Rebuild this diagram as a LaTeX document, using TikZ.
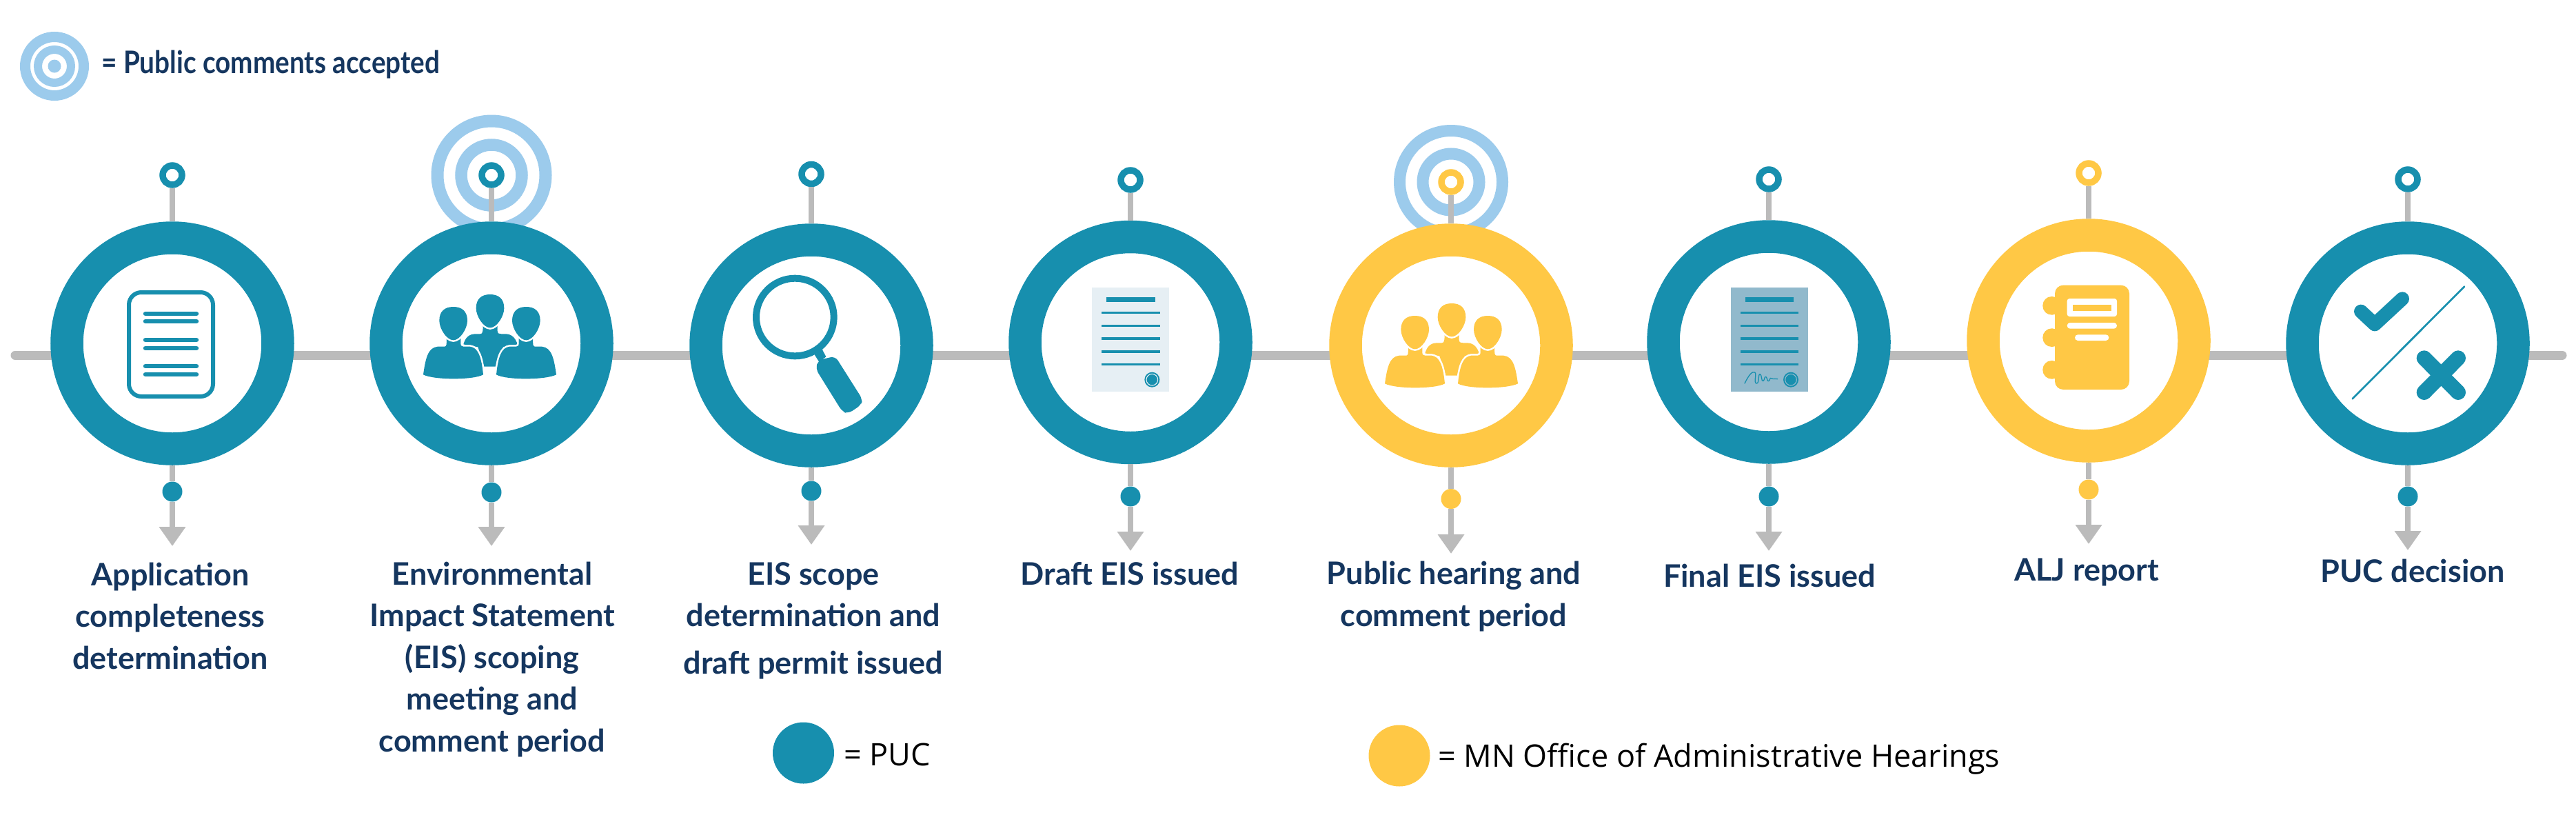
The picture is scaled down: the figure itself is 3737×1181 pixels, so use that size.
\documentclass[tikz,border=0pt]{standalone}
\usepackage{fontspec}
\usetikzlibrary{arrows.meta}
\newfontfamily\lblfont{Lato}
\newfontfamily\lblfontB{Lato}[FakeStretch=0.86]
\newfontfamily\legfont{Open Sans}
\definecolor{teal}{HTML}{178FAE}
\definecolor{sun}{HTML}{FFC845}
\definecolor{rail}{HTML}{BBBBBB}
\definecolor{sky}{HTML}{9CCBEC}
\definecolor{navy}{HTML}{15365F}
\definecolor{paleA}{HTML}{E6EFF4}
\definecolor{paleB}{HTML}{91B9CC}
\tikzset{
  bigring/.style={circle,inner sep=0pt,minimum size=306pt,line width=47.5pt,fill=white,draw=#1},
  topring/.style={circle,inner sep=0pt,minimum size=28pt,line width=9.5pt,fill=white,draw=#1},
  botdot/.style={circle,inner sep=0pt,minimum size=29pt,fill=#1},
  target/.style={circle,inner sep=0pt,draw=sky,fill=white},
  stemline/.style={draw=rail,line width=8pt},
  arrowline/.style={draw=rail,line width=8pt,-{Triangle[width=37pt,length=28pt]}},
  timeline/.style={draw=rail,line width=13pt,line cap=round},
  steplabel/.style={inner sep=0pt,anchor=base,align=center,text=navy,font=\lblfont\bfseries\fontsize{45}{60.5}\selectfont},
  legendlabel/.style={inner sep=0pt,anchor=base west,text=black,font=\legfont\fontsize{45}{54}\selectfont},
  zoomed/.style={x=.33333pt,y=-.33333pt}
}
\newcommand\stage[7]{%
  \node[bigring=#7] (c#1) at (#2,#3) {};
  \node[topring=#7] (t#1) at (#2,#4) {};
  \node[botdot=#7] (d#1) at (#2,#5) {};
  \coordinate (a#1) at (#2,#6);
  \draw[stemline] (c#1) -- (t#1);
  \draw[stemline] (c#1) -- (d#1);
  \draw[arrowline] (d#1) -- (a#1);
}
\newcommand\headshape[3]{%
  \fill[#3,preaction={draw=white,line width=5pt},shift={(#1,#2)}]
    (172,255) .. controls (172,215) and (195,195) .. (233,195)
    .. controls (271,195) and (294,215) .. (294,255)
    .. controls (294,290) and (262,340) .. (233,340)
    .. controls (204,340) and (172,290) .. (172,255) -- cycle;
}
\newcommand\peopleicon[3]{%
  \begin{scope}[shift={(#1,#2)},zoomed]
    \fill[#3] (277,358) .. controls (285,330) and (300,313) .. (330,313) -- (350,313)
      .. controls (360,313) and (362,305) .. (362,270) -- (425,270) -- (425,300)
      .. controls (425,310) and (430,313) .. (445,313) -- (460,313)
      .. controls (490,313) and (505,335) .. (512,358) -- (450,370) -- (416,455) -- (367,455) -- (340,370) -- cycle;
    \headshape{160}{-54}{#3}
    \fill[#3,preaction={draw=white,line width=5pt}] (102,490) .. controls (112,420) and (122,372) .. (165,368) -- (195,368)
      .. controls (203,368) and (204,360) .. (204,330) -- (265,330) -- (265,355)
      .. controls (265,366) and (270,368) .. (285,368) -- (305,368)
      .. controls (340,372) and (355,410) .. (363,490)
      .. controls (320,514) and (150,514) .. (102,490) -- cycle;
    \fill[#3,preaction={draw=white,line width=5pt}] (681,490) .. controls (671,420) and (661,372) .. (618,368) -- (588,368)
      .. controls (580,368) and (579,360) .. (579,330) -- (518,330) -- (518,355)
      .. controls (518,366) and (513,368) .. (498,368) -- (478,368)
      .. controls (443,372) and (428,410) .. (420,490)
      .. controls (463,514) and (633,514) .. (681,490) -- cycle;
    \headshape{0}{0}{#3}
    \headshape{317}{0}{#3}
  \end{scope}
}
\newcommand\certicon[3]{%
  \begin{scope}[shift={(#1,#2)},zoomed]
    \fill[#3] (192,111) rectangle (529,565);
    \fill[teal] (256,154) rectangle (467,173);
    \foreach \yy in {221,277,333,390,446} \fill[teal] (234,\yy-5) rectangle (488,\yy+5);
    \fill[teal] (454,512) circle (33);
    \draw[#3,line width=1.1pt] (454,512) circle (25);
  \end{scope}
}
\begin{document}
\begin{tikzpicture}[x=1pt,y=-1pt]
\useasboundingbox (0,0) rectangle (3737,1181);
\fill[white] (0,0) rectangle (3737,1181);

% legend, top
\node[target,line width=15pt,minimum size=85pt] (lt1) at (79,96) {};
\node[target,line width=12pt,minimum size=48pt] (lt2) at (79,96) {};
\node[circle,inner sep=0pt,minimum size=19pt,fill=sky] (lt3) at (79,96) {};
\node[inner sep=0pt,anchor=base west,text=navy,font=\lblfontB\bfseries\fontsize{45}{54}\selectfont] (lt) at (147,106) {= Public comments accepted};

% timeline
\coordinate (rs) at (22,515);
\coordinate (re) at (3717,515);
\draw[timeline] (rs) -- (re);

% public comment targets
\node[target,line width=18pt,minimum size=157pt] (tgo2) at (713,254) {};
\node[target,line width=17.5pt,minimum size=88pt] (tgi2) at (713,254) {};
\node[target,line width=17pt,minimum size=149pt] (tgo5) at (2105,264) {};
\node[target,line width=17pt,minimum size=82pt] (tgi5) at (2105,264) {};

% stages
\stage{1}{250}{498}{254}{713}{792}{teal}
\stage{2}{713}{498}{254}{714}{792}{teal}
\stage{3}{1177}{501}{252.5}{712}{790}{teal}
\stage{4}{1640}{496.5}{261}{720}{799}{teal}
\stage{5}{2105}{501}{264}{723.5}{803}{sun}
\stage{6}{2566}{496}{260}{720}{799}{teal}
\stage{7}{3030}{494}{251}{710}{789}{sun}
\stage{8}{3493}{498}{260}{720}{798}{teal}

% icon 1: document
\draw[teal,line width=6pt,rounded corners=18pt] (187,424) rectangle (309,575);
\foreach \yy in {455,466,493,505,531,543} \draw[teal,line width=6.5pt,line cap=round] (211,\yy) -- (285,\yy);

% icon 2, 5: people
\peopleicon{580}{380}{teal}
\peopleicon{1975}{393}{sun}

% icon 3: magnifier
\begin{scope}[shift={(1040,360)},zoomed]
  \draw[teal,line width=10pt] (340,300) circle (169);
  \fill[teal] (425,463) -- (458,440) -- (475,472) -- (445,495) -- cycle;
  \fill[teal,rounded corners=7pt] (430,525) -- (441,487) -- (515,470) -- (634,658) -- (628,682) -- (570,720) -- (545,710) -- cycle;
\end{scope}

% icon 4, 6: certificates
\certicon{1520}{380}{paleA}
\certicon{2446.67}{380}{paleB}
\begin{scope}[shift={(2450,390)},zoomed]
  \draw[teal,line width=1.3pt,line cap=round,line join=round] (243,498) .. controls (262,460) and (275,445) .. (287,450)
    .. controls (297,455) and (280,498) .. (295,498)
    .. controls (308,498) and (300,455) .. (310,458)
    .. controls (318,460) and (315,490) .. (323,488)
    .. controls (330,486) and (328,465) .. (336,470)
    .. controls (342,474) and (340,490) .. (347,488)
    .. controls (353,486) and (353,470) .. (358,476)
    .. controls (362,482) and (368,476) .. (386,479);
\end{scope}

% icon 7: notebook
\begin{scope}[shift={(2890,380)},zoomed]
  \foreach \yy in {190,329,469} \fill[sun,rounded corners=13pt] (220,\yy-40) rectangle (300,\yy+40);
  \fill[sun,rounded corners=12pt] (273,101) rectangle (597,555);
  \fill[white,rounded corners=3.5pt] (326,159) rectangle (543,237);
  \fill[sun] (351,185) rectangle (518,212);
  \fill[white,rounded corners=4.3pt] (326,264) rectangle (543,290);
  \fill[white,rounded corners=4.3pt] (360,316) rectangle (508,342);
\end{scope}

% icon 8: decision
\begin{scope}[shift={(3360,380)},zoomed]
  \draw[teal,line width=20pt,line cap=round,line join=round] (195,215) -- (255,271) -- (375,160);
  \draw[teal,line width=2.7pt,line cap=round] (158,595) -- (645,107);
  \draw[teal,line width=22pt,line cap=round] (470,418) -- (618,567);
  \draw[teal,line width=22pt,line cap=round] (618,418) -- (470,567);
\end{scope}

% labels
\node[steplabel] (l1) at (247,970) {Application\\completeness\\determination};
\node[steplabel] (l2) at (714,1090) {Environmental\\Impact Statement\\(EIS) scoping\\meeting and\\comment period};
\node[steplabel] (l3) at (1180,977) {EIS scope\\determination and\\[8pt]draft permit issued};
\node[steplabel] (l4) at (1639,848) {Draft EIS issued};
\node[steplabel] (l5) at (2109,908) {Public hearing and\\comment period};
\node[steplabel] (l6) at (2567,851.5) {Final EIS issued};
\node[steplabel] (l7) at (3027,842) {ALJ report};
\node[steplabel] (l8) at (3500,844) {PUC decision};

% legend, bottom
\node[circle,inner sep=0pt,minimum size=89pt,fill=teal] (k1) at (1165.5,1092) {};
\node[legendlabel] (kl1) at (1224,1110.7) {= PUC};
\node[circle,inner sep=0pt,minimum size=89pt,fill=sun] (k2) at (2030,1096) {};
\node[legendlabel] (kl2) at (2086,1112) {= MN Office of Administrative Hearings};
\end{tikzpicture}
\end{document}
